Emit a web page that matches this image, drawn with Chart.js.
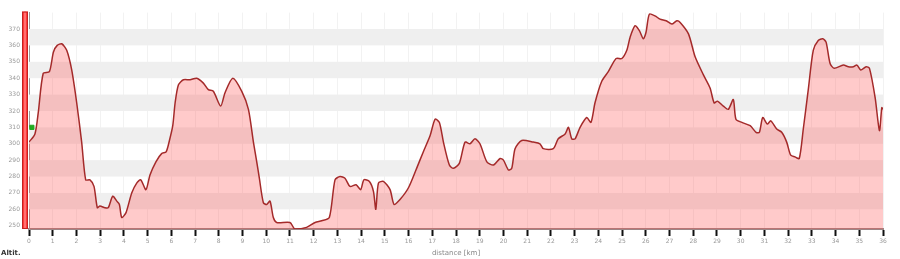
<!DOCTYPE html>
<html>
<head>
<meta charset="utf-8">
<script src="https://cdn.jsdelivr.net/npm/chart.js@4/dist/chart.umd.min.js"></script>
<style>
html,body{margin:0;padding:0;background:#fff;}
#wrap{width:900px;height:259px;position:relative;}
</style>
</head>
<body>
<div id="wrap"><canvas id="c" width="900" height="259"></canvas></div>
<script>
const distanceKm = [0,0.25,0.39,0.6,0.86,1.03,1.19,1.38,1.59,1.8,2.01,2.22,2.39,2.57,2.74,2.88,2.99,3.2,3.34,3.53,3.7,3.81,3.91,4.09,4.33,4.54,4.71,4.93,5.1,5.35,5.59,5.78,5.92,6.06,6.16,6.3,6.51,6.79,7.07,7.35,7.56,7.77,8.08,8.26,8.59,8.97,9.25,9.46,9.6,9.71,9.88,10.02,10.16,10.3,10.44,11.0,11.21,11.7,12.06,12.34,12.66,12.9,13.11,13.32,13.53,13.79,13.98,14.12,14.35,14.52,14.62,14.73,14.94,15.22,15.39,15.64,15.99,16.34,16.62,16.91,17.12,17.3,17.47,17.72,17.89,18.14,18.38,18.59,18.8,19.01,19.3,19.58,19.86,20.0,20.21,20.35,20.49,20.77,21.26,21.54,21.68,22.1,22.31,22.6,22.74,22.88,23.02,23.23,23.51,23.69,23.86,24.14,24.42,24.75,24.99,25.2,25.34,25.55,25.73,25.9,26.01,26.15,26.39,26.6,26.86,27.1,27.31,27.45,27.8,28.08,28.43,28.71,28.88,29.02,29.27,29.48,29.69,29.8,30.05,30.4,30.65,30.79,30.93,31.12,31.27,31.52,31.73,31.94,32.11,32.29,32.47,32.64,32.85,33.06,33.27,33.46,33.6,33.77,33.94,34.33,34.54,34.75,34.9,35.06,35.29,35.43,35.67,35.85,35.95,36.0];
const altitudeM = [301,306,319,343,344,356,360,361,357,345,325,301,278,278,274,261,262,261,261,268,265,263,255,258,270,276,278,272,281,289,294,295,302,311,325,336,339,339,340,337,333,332,323,331,340,332,321,301,289,279,264,263,265,255,252,252,248,249,252,253,255,278,280,279,274,275,272,278,277,271,260,276,277,272,263,266,273,285,295,305,315,313,301,287,285,288,301,300,303,300,289,287,291,290,284,285,297,302,301,300,297,297,303,306,310,303,303,310,316,313,325,338,344,352,352,357,365,372,369,364,368,379,378,376,375,373,375,374,367,353,342,334,325,326,323,321,327,315,313,311,307,307,316,312,314,309,307,301,293,292,291,309,333,357,363,364,362,349,346,348,347,347,348,345,347,346,328,308,322,321];
const markerKm = [0.12];
const markerAlt = [310];
const yTickValues = [250,260,270,280,290,300,310,320,330,340,350,360,370];
const xAxisTitle = 'distance [km]';
const yAxisTitle = 'Altit.';

const profile = distanceKm.map((d,i)=>({x:d,y:altitudeM[i]}));
const marker = markerKm.map((d,i)=>({x:d,y:markerAlt[i]}));

const bandsPlugin = {
  id:'bands',
  beforeDatasetsDraw(chart){
    const {ctx, chartArea, scales:{y}} = chart;
    ctx.save();
    ctx.fillStyle = '#efefef';
    for (let i=0;i<yTickValues.length-1;i++){
      const lo = yTickValues[i], hi = yTickValues[i+1];
      if (((lo-250)/10) % 2 === 1){
        const yt = y.getPixelForValue(hi), yb = y.getPixelForValue(lo);
        ctx.fillRect(chartArea.left, yt, chartArea.right-chartArea.left, yb-yt);
      }
    }
    ctx.restore();
  },
  afterDraw(chart){
    const {ctx, chartArea} = chart;
    ctx.save();
    // red side bar
    const x0 = chartArea.left - 7, w = 6;
    ctx.fillStyle = '#ff3a3a';
    ctx.fillRect(x0, chartArea.top-1, w, chartArea.bottom-chartArea.top+1);
    ctx.fillStyle = '#ff7070';
    ctx.fillRect(x0+2, chartArea.top-1, 2, chartArea.bottom-chartArea.top+1);
    ctx.strokeStyle = '#c42020';
    ctx.lineWidth = 1;
    ctx.strokeRect(x0+0.5, chartArea.top-0.5, w-1, chartArea.bottom-chartArea.top);
    // y axis title at bottom left
    ctx.fillStyle = '#333';
    ctx.font = 'bold 7px "DejaVu Sans"';
    ctx.textBaseline = 'middle';
    ctx.textAlign = 'left';
    ctx.fillText(yAxisTitle, 1, 253);
    ctx.restore();
  }
};

new Chart(document.getElementById('c'), {
  type:'line',
  data:{
    datasets:[
      {
        data: marker,
        type:'scatter',
        pointStyle:'rect',
        pointRadius:3,
        backgroundColor:'#22aa22',
        borderColor:'#22aa22',
        order:0
      },
      {
        data: profile,
        borderColor:'#a42a2a',
        borderWidth:1.5,
        backgroundColor:'rgba(255,80,80,0.3)',
        fill:'start',
        pointRadius:0,
        tension:0.25,
        order:1
      }
    ]
  },
  options:{
    responsive:false,
    animation:false,
    events:[],
    layout:{padding:{left:0,right:17,top:8,bottom:0}},
    plugins:{legend:{display:false},tooltip:{enabled:false}},
    scales:{
      x:{
        type:'linear',
        min:0,max:36,
        afterFit(s){ s.height = 30; },
        ticks:{stepSize:1,autoSkip:false,maxRotation:0,color:'#999',font:{size:6,family:'DejaVu Sans'},padding:2},
        grid:{color:'rgba(0,0,0,0.05)',drawTicks:true,tickLength:7,tickColor:'#111',tickWidth:2},
        border:{display:true,color:'#9c8585',width:2},
        title:{display:true,text:xAxisTitle,color:'#888',font:{size:7,family:'DejaVu Sans'},padding:{top:0,bottom:2}}
      },
      y:{
        type:'linear',
        min:248,max:380,
        afterFit(s){ s.width = 29; },
        afterBuildTicks(s){ s.ticks = yTickValues.map(v=>({value:v})); },
        ticks:{color:'#999',font:{size:6,family:'DejaVu Sans'},padding:9},
        grid:{display:false,drawTicks:false},
        border:{display:true,color:'#999',width:1}
      }
    }
  },
  plugins:[bandsPlugin]
});
</script>
</body>
</html>
